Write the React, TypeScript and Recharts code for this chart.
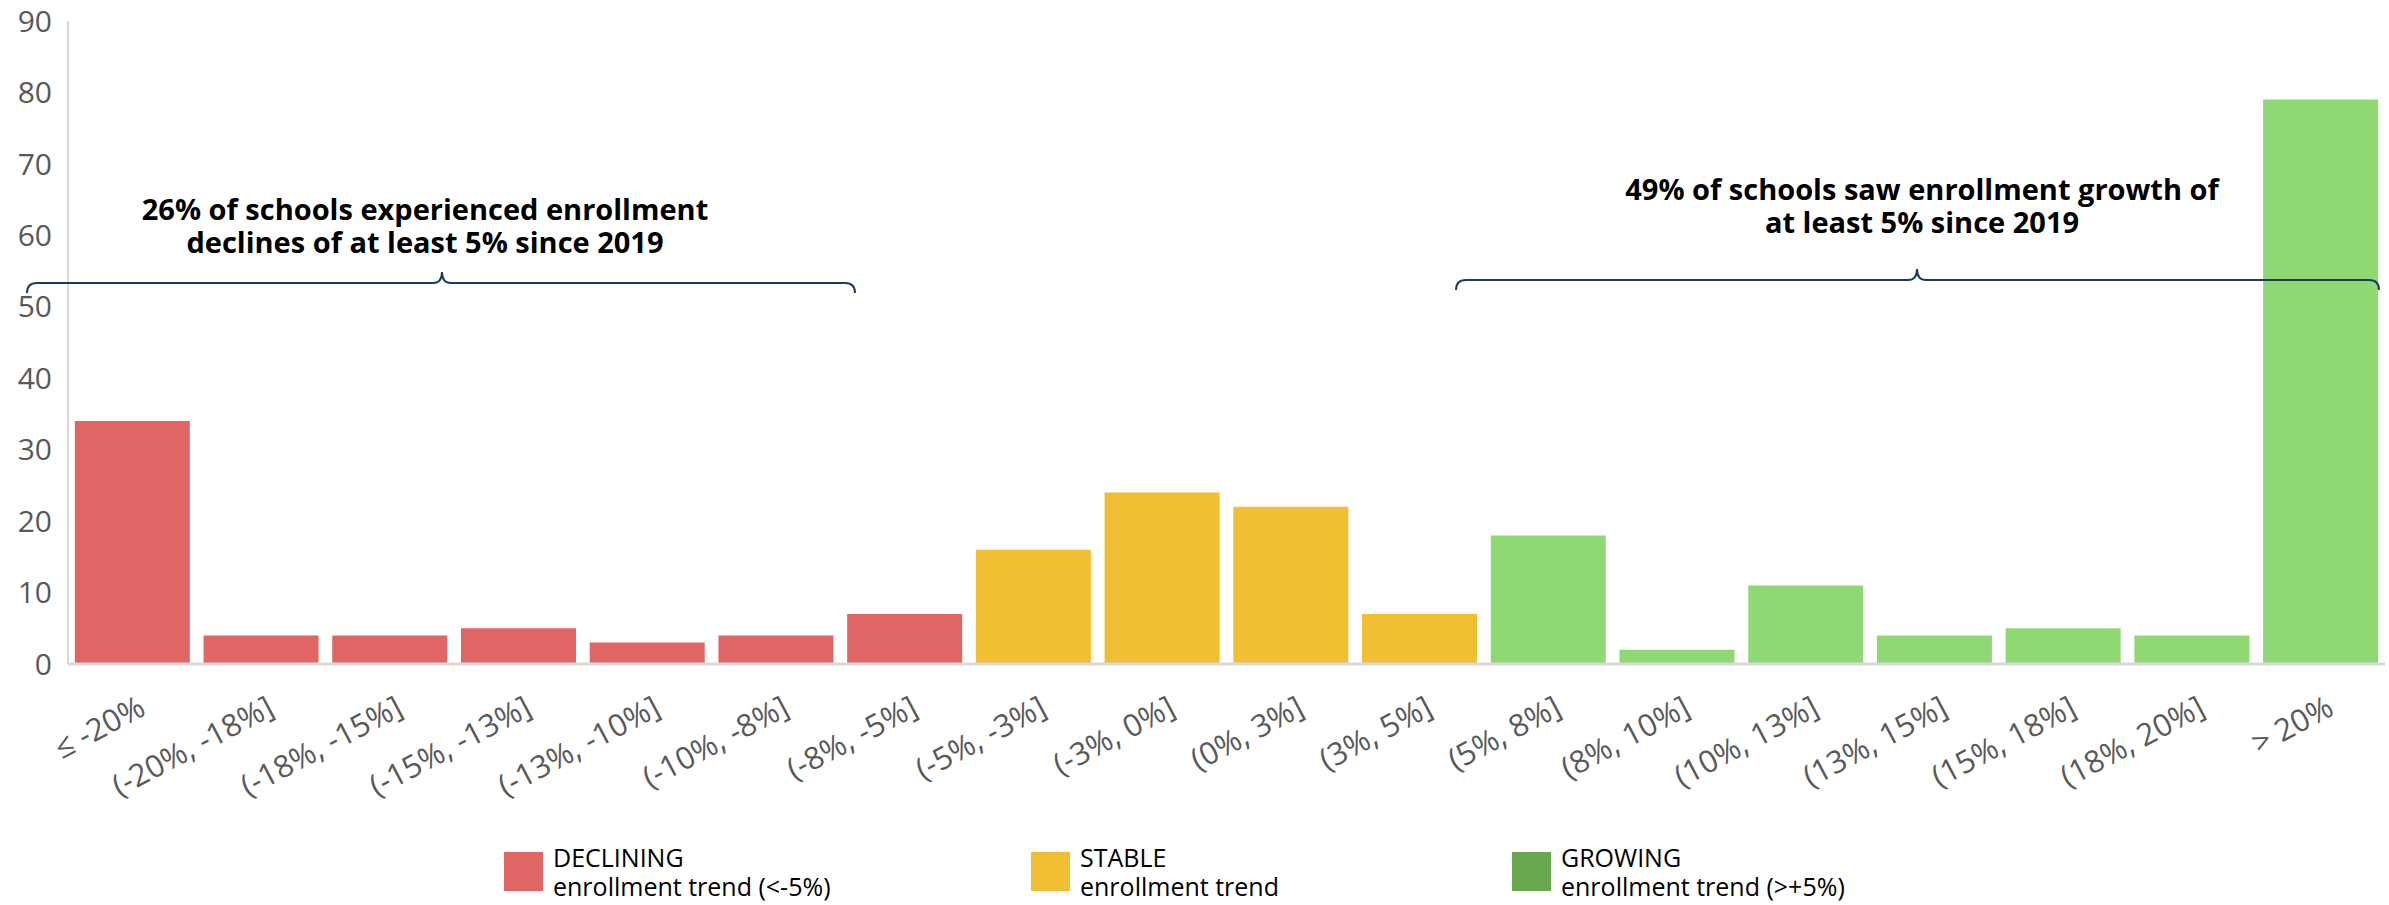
import { BarChart, Bar, XAxis, YAxis, Cell } from 'recharts';

const categories = [
  '≤ -20%', '(-20%, -18%]', '(-18%, -15%]', '(-15%, -13%]', '(-13%, -10%]', '(-10%, -8%]', '(-8%, -5%]',
  '(-5%, -3%]', '(-3%, 0%]', '(0%, 3%]', '(3%, 5%]',
  '(5%, 8%]', '(8%, 10%]', '(10%, 13%]', '(13%, 15%]', '(15%, 18%]', '(18%, 20%]', '> 20%',
];
const schools = [34, 4, 4, 5, 3, 4, 7, 16, 24, 22, 7, 18, 2, 11, 4, 5, 4, 79];
const trends = [
  'declining', 'declining', 'declining', 'declining', 'declining', 'declining', 'declining',
  'stable', 'stable', 'stable', 'stable',
  'growing', 'growing', 'growing', 'growing', 'growing', 'growing', 'growing',
];
const yTicks = [0, 10, 20, 30, 40, 50, 60, 70, 80, 90];

const legendTitles = ['DECLINING', 'STABLE', 'GROWING'];
const legendNotes = ['enrollment trend (<-5%)', 'enrollment trend', 'enrollment trend (>+5%)'];
const legendColors = ['#e06666', '#f1bf33', '#6aa84f'];

const declineNote = ['26% of schools experienced enrollment', 'declines of at least 5% since 2019'];
const growthNote = ['49% of schools saw enrollment growth of', 'at least 5% since 2019'];

const barColors: Record<string, string> = {
  declining: '#e06666',
  stable: '#f1bf33',
  growing: '#8fd974',
};

const data = categories.map((range, i) => ({ range, schools: schools[i], trend: trends[i] }));

const FONT = '"Open Sans", sans-serif';
const W = 2389;
const H = 905;

function RangeTick({ x, y, payload }: any) {
  const px = x + 15;
  const py = y + 50;
  return (
    <text
      x={px}
      y={py}
      textAnchor="end"
      fontSize={31}
      fontFamily={FONT}
      fill="#595959"
      transform={`rotate(-28, ${px}, ${py})`}
    >
      {payload.value}
    </text>
  );
}

// curly brace, tip pointing up
function brace(x1: number, x2: number, y: number, tipX: number) {
  const r = 10;
  return `M ${x1} ${y + 10} Q ${x1} ${y}, ${x1 + r} ${y} L ${tipX - 9} ${y} Q ${tipX} ${y}, ${tipX} ${y - 11} Q ${tipX} ${y}, ${tipX + 9} ${y} L ${x2 - r} ${y} Q ${x2} ${y}, ${x2} ${y + 10}`;
}

const legendX = [504, 1031, 1512];

export default function App() {
  return (
    <div style={{ position: 'relative', width: W, height: H, background: '#fff' }}>
      <style>{'body{margin:0}'}</style>
      <BarChart
        width={W}
        height={H}
        data={data}
        margin={{ top: 21, right: 4, left: 0, bottom: 0 }}
        barCategoryGap="5.3%"
      >
        <XAxis
          dataKey="range"
          interval={0}
          height={241}
          tickLine={false}
          tickSize={0}
          tickMargin={0}
          axisLine={{ stroke: '#d9d9d9', strokeWidth: 3 }}
          tick={<RangeTick />}
        />
        <YAxis
          width={68}
          domain={[0, 90]}
          ticks={yTicks}
          interval={0}
          tickLine={false}
          tickSize={0}
          tickMargin={16}
          axisLine={{ stroke: '#d9d9d9', strokeWidth: 2 }}
          tick={{ fill: '#595959', fontSize: 30, fontFamily: FONT }}
        />
        <Bar dataKey="schools" isAnimationActive={false}>
          {data.map((d, i) => (
            <Cell key={i} fill={barColors[d.trend]} />
          ))}
        </Bar>
      </BarChart>
      <svg
        width={W}
        height={H}
        style={{ position: 'absolute', left: 0, top: 0, pointerEvents: 'none' }}
        fontFamily={FONT}
      >
        <path d={brace(27, 855, 283, 442)} fill="none" stroke="#1f3a5f" strokeWidth={2} />
        <path d={brace(1456, 2379, 280, 1917)} fill="none" stroke="#1f3a5f" strokeWidth={2} />
        {declineNote.map((t, i) => (
          <text key={t} x={425} y={220 + i * 33} textAnchor="middle" fontSize={29} fontWeight={700} fill="#000">
            {t}
          </text>
        ))}
        {growthNote.map((t, i) => (
          <text key={t} x={1922} y={200 + i * 33} textAnchor="middle" fontSize={29} fontWeight={700} fill="#000">
            {t}
          </text>
        ))}
        {legendTitles.map((t, i) => (
          <g key={t}>
            <rect x={legendX[i]} y={852} width={39} height={39} fill={legendColors[i]} />
            <text x={legendX[i] + 49} y={867} fontSize={25} fill="#000">{t}</text>
            <text x={legendX[i] + 49} y={896} fontSize={25} fill="#000">{legendNotes[i]}</text>
          </g>
        ))}
      </svg>
    </div>
  );
}
